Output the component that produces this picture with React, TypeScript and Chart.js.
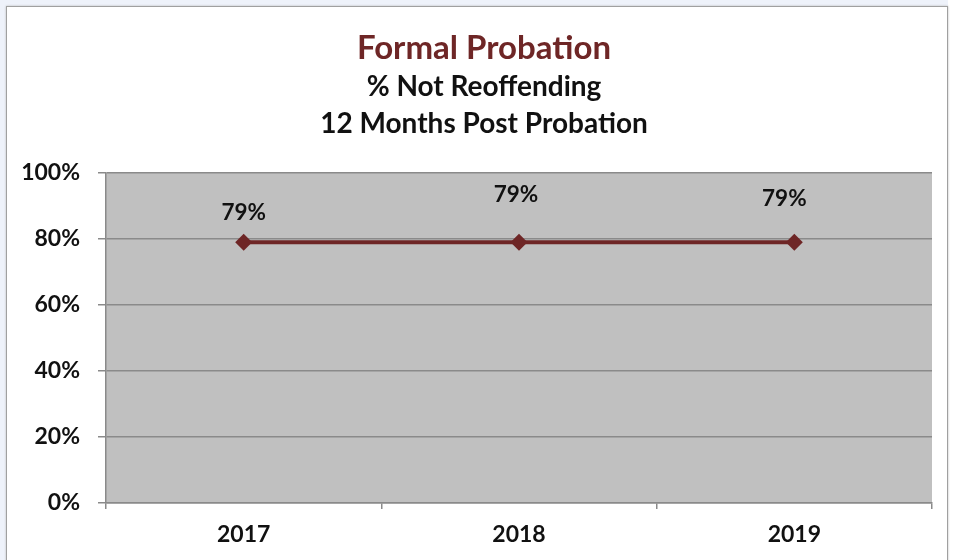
import React, { useEffect, useRef } from "react";
import { Chart, registerables } from "chart.js";

Chart.register(...registerables);

const years = ["2017", "2018", "2019"];
const notReoffending = [79, 79, 79];
const yTicks = [0, 20, 40, 60, 80, 100];
const titleText = "Formal Probation";
const subtitleLines = ["% Not Reoffending", "12 Months Post Probation"];
const labelDx = [0, -3, -10];
const labelDy = [-30, -48, -44];

const FONT = "Lato, 'Open Sans', sans-serif";
const MAROON = "#6E2626";
const GRID = "#8A8A8A";

const plotBg = {
  id: "plotBg",
  beforeDraw(chart: any) {
    const { ctx, chartArea } = chart;
    ctx.save();
    ctx.fillStyle = "#C0C0C0";
    ctx.fillRect(chartArea.left, chartArea.top, chartArea.right - chartArea.left, chartArea.bottom - chartArea.top);
    ctx.restore();
  },
};

const titles = {
  id: "titles",
  afterDraw(chart: any) {
    const { ctx } = chart;
    ctx.save();
    ctx.textAlign = "center";
    ctx.textBaseline = "middle";
    ctx.fillStyle = MAROON;
    ctx.font = `bold 33px ${FONT}`;
    ctx.fillText(titleText, 484, 48);
    ctx.fillStyle = "#111";
    ctx.font = `bold 28px ${FONT}`;
    subtitleLines.forEach((t, i) => ctx.fillText(t, 484, 87 + i * 37));
    ctx.restore();
  },
};

const dataLabels = {
  id: "dataLabels",
  afterDatasetsDraw(chart: any) {
    const { ctx } = chart;
    const meta = chart.getDatasetMeta(0);
    ctx.save();
    ctx.textAlign = "center";
    ctx.textBaseline = "middle";
    ctx.fillStyle = "#111";
    ctx.font = `bold 22.5px ${FONT}`;
    meta.data.forEach((pt: any, i: number) => {
      ctx.fillText(`${notReoffending[i]}%`, pt.x + labelDx[i], pt.y + labelDy[i]);
    });
    ctx.restore();
  },
};

export default function App() {
  const ref = useRef<HTMLCanvasElement>(null);
  useEffect(() => {
    const chart = new Chart(ref.current!, {
      type: "line",
      data: {
        labels: years,
        datasets: [
          {
            data: notReoffending,
            borderColor: MAROON,
            backgroundColor: MAROON,
            borderWidth: 4,
            pointStyle: "rectRot",
            pointRadius: 8.5,
            pointBorderWidth: 0,
            pointBackgroundColor: MAROON,
            tension: 0,
          },
        ],
      },
      options: {
        animation: false,
        responsive: false,
        devicePixelRatio: 1,
        layout: { padding: { left: 6, right: 28, top: 173, bottom: 0 } },
        plugins: { legend: { display: false }, tooltip: { enabled: false }, title: { display: false } },
        scales: {
          x: {
            offset: true,
            afterFit: (s: any) => { s.height = 57; },
            grid: { offset: true, drawOnChartArea: false, drawTicks: true, tickLength: 6, color: GRID, lineWidth: 1.5 },
            border: { color: GRID, width: 1.5 },
            ticks: { color: "#111", font: { family: FONT, size: 23, weight: "bold" }, padding: 12 },
          },
          y: {
            min: 0,
            max: 100,
            afterFit: (s: any) => { s.width = 100; },
            afterBuildTicks: (s: any) => { s.ticks = yTicks.map((v) => ({ value: v })); },
            grid: { color: GRID, lineWidth: 1.5, tickLength: 8 },
            border: { color: GRID, width: 1.5 },
            ticks: { color: "#111", font: { family: FONT, size: 23, weight: "bold" }, padding: 18, callback: (v: any) => `${v}%` },
          },
        },
      },
      plugins: [plotBg, dataLabels, titles],
    });
    return () => chart.destroy();
  }, []);

  return (
    <div style={{ position: "fixed", left: 0, top: 0, width: 960, height: 560, background: "#ffffff", overflow: "hidden" }}>
      <div style={{ position: "absolute", left: 0, top: 0, width: 948, height: 7, background: "#EEF2FA" }} />
      <div style={{ position: "absolute", left: 0, top: 0, width: 6, height: 560, background: "#EEF2FA" }} />
      <div style={{ position: "absolute", left: 6, top: 6, width: 940, height: 570, background: "#fff", border: "1.5px solid #A0A0A0", boxShadow: "0 0 2px #bbb" }} />
      <canvas ref={ref} width={960} height={560} style={{ position: "absolute", left: 0, top: 0 }} />
    </div>
  );
}
